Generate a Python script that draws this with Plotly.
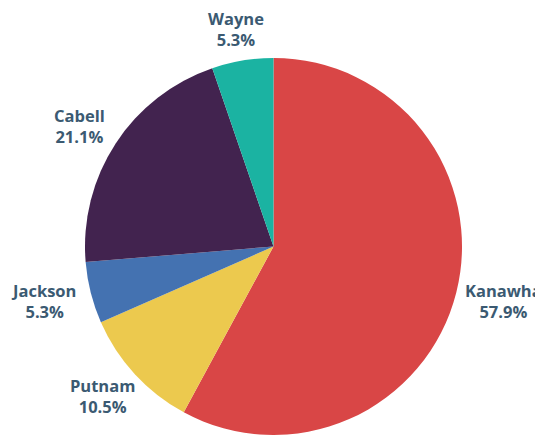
import math
import plotly.graph_objects as go

counties = ["Kanawha", "Putnam", "Jackson", "Cabell", "Wayne"]
counts = [11, 2, 1, 4, 1]
colors = ["#d94646", "#ecc94e", "#4472b1", "#42234f", "#1bb3a2"]

# page body has an 8px margin, so the figure is drawn 8px in from the top-left
W, H = 535, 427
dom_x = [76 / W, 455 / W]
dom_y = [0, 377 / H]

fig = go.Figure(go.Pie(
    labels=counties,
    values=counts,
    sort=False,
    direction="clockwise",
    rotation=0,
    marker=dict(colors=colors, line=dict(color="white", width=0)),
    textinfo="none",
    domain=dict(x=dom_x, y=dom_y),
    showlegend=False,
    hoverinfo="label+percent",
))

# label placement derived from slice mid-angles
cx = (dom_x[0] + dom_x[1]) / 2 * W
cy = (1 - (dom_y[0] + dom_y[1]) / 2) * H
R = min((dom_x[1] - dom_x[0]) * W, (dom_y[1] - dom_y[0]) * H) / 2
FS = 16.5
total = sum(counts)
cum = 0
annotations = []
for name, v in zip(counties, counts):
    mid = (cum + v / 2) / total * 2 * math.pi
    cum += v
    dx, dy = math.sin(mid), -math.cos(mid)
    rr = R + 14
    hw = 0.3 * FS * len(name)
    hh = 18
    px = cx + dx * rr + hw * dx
    py = cy + dy * rr + hh * dy
    annotations.append(dict(
        x=px / W, y=1 - py / H, xref="paper", yref="paper",
        xanchor="center", yanchor="middle", showarrow=False, align="center",
        text=f"<b>{name}</b><br><b>{v / total * 100:.1f}%</b>",
        font=dict(family="Open Sans", size=FS, color="#3b5a72"),
    ))

fig.update_layout(
    width=W, height=H, autosize=False,
    margin=dict(l=0, r=0, t=0, b=0),
    paper_bgcolor="white", plot_bgcolor="white",
    annotations=annotations,
)
fig.write_html("out.html")
